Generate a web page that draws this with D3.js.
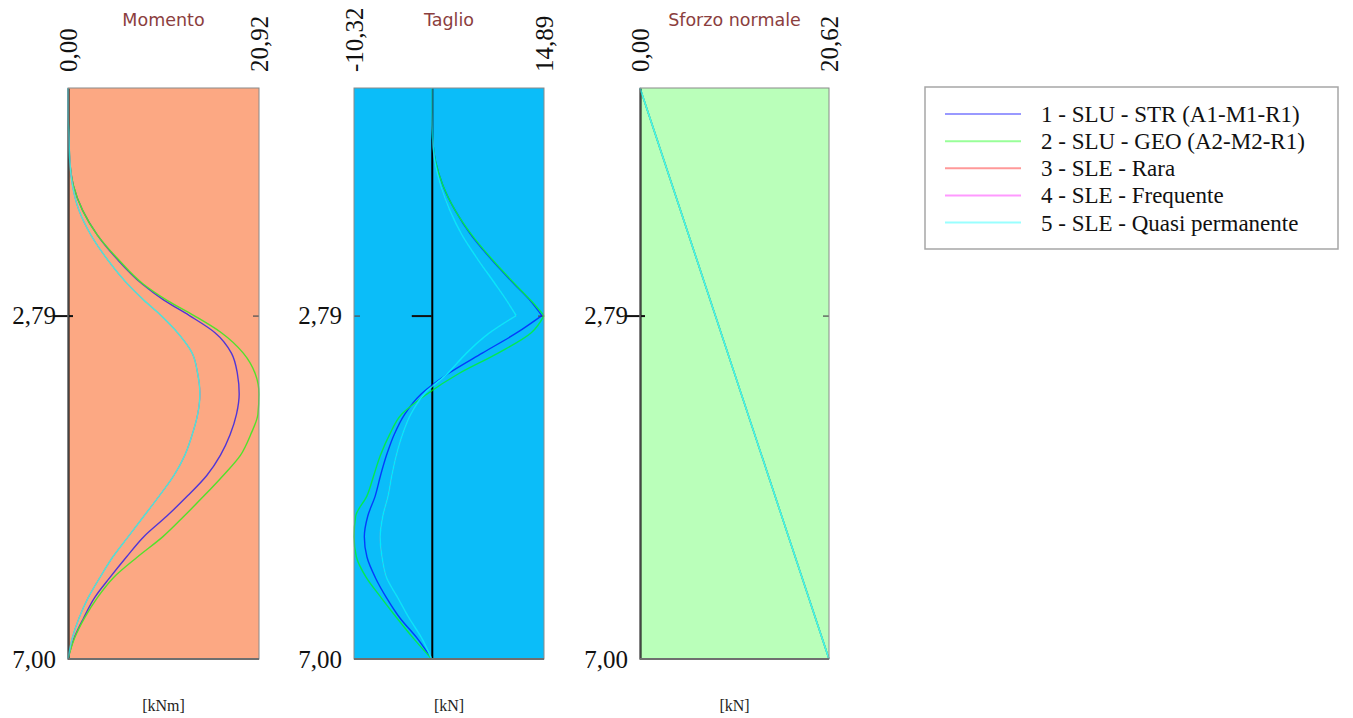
<!DOCTYPE html>
<html>
<head>
<meta charset="utf-8">
<script src="https://cdn.jsdelivr.net/npm/d3@7"></script>
<style>
  body { margin: 0; background: #ffffff; }
  svg { display: block; }
</style>
</head>
<body>
<svg id="chart" width="1353" height="718"></svg>
<script>
// ---- data ---------------------------------------------------------------
// depth along the wall [m]
const depths = [0, 0.3, 0.6, 0.9, 1.2, 1.5, 1.8, 2.1, 2.4, 2.6, 2.79, 3.0, 3.25, 3.5, 3.75,
                4.0, 4.25, 4.5, 4.75, 5.0, 5.25, 5.5, 5.75, 6.0, 6.25, 6.5, 6.75, 7.0];

// bending moment [kNm]
const momentoSTR = [0, 0, 0.1, 0.2, 0.6, 1.6, 3.2, 5.4, 8.1, 10.5, 13.3, 16.1, 17.9, 18.55, 18.75,
                    18.45, 17.75, 16.7, 15.2, 13.1, 10.8, 8.3, 6.4, 4.6, 2.9, 1.7, 0.65, 0];
const momentoGEO = [0, 0, 0.1, 0.2, 0.6, 1.6, 3.2, 5.5, 8.2, 10.8, 13.8, 16.8, 19.2, 20.5, 20.92,
                    20.8, 20.0, 18.9, 17.0, 14.9, 12.7, 10.4, 7.6, 5.0, 3.2, 1.8, 0.7, 0];
// the three SLE combinations give the same moment
const momentoSLE = [0, 0, 0.1, 0.2, 0.5, 1.2, 2.5, 4.3, 6.5, 8.3, 10.2, 12.0, 13.6, 14.2, 14.45,
                    14.2, 13.6, 12.8, 11.6, 10.0, 8.3, 6.6, 4.9, 3.5, 2.2, 1.2, 0.45, 0];

// shear [kN]
const taglioSTR = [0, 0, 0.1, 0.5, 1.5, 3.1, 5.2, 7.9, 10.9, 13.0, 14.6, 11.3, 6.7, 2.2, -1.4,
                   -3.6, -5.0, -6.0, -6.8, -7.5, -8.5, -8.95, -8.6, -7.5, -6.0, -4.2, -1.9, 0];
const taglioGEO = [0, 0, 0.1, 0.5, 1.5, 3.1, 5.3, 8.0, 11.0, 13.1, 14.89, 13.2, 8.8, 3.6, -0.6,
                   -4.0, -5.6, -6.8, -7.7, -8.6, -10.1, -10.32, -10.0, -8.7, -6.7, -4.6, -2.4, 0];
const taglioSLE = [0, 0, 0.1, 0.4, 1.2, 2.4, 4.0, 6.1, 8.4, 9.9, 11.2, 7.7, 4.6, 2.1, -1.0,
                   -2.8, -3.9, -4.7, -5.3, -5.8, -6.5, -6.85, -6.6, -6.0, -4.5, -3.0, -1.3, 0];

// axial force [kN] (same for every combination)
const sforzoDepths = [0, 7.0];
const sforzoValues = [0, 20.62];

// axis labels
const momentoTicks = [0, 20.92];
const taglioTicks = [-10.32, 14.89];
const sforzoTicks = [0, 20.62];
const depthTicks = [2.79, 7.0];

const seriesNames = [
  "1 - SLU - STR (A1-M1-R1)",
  "2 - SLU - GEO (A2-M2-R1)",
  "3 - SLE - Rara",
  "4 - SLE - Frequente",
  "5 - SLE - Quasi permanente"
];
const seriesColors = ["#0000ff", "#00ff00", "#ff0000", "#ff00ff", "#00ffff"];
const seriesWidths = [1.4, 1.4, 0.8, 0.8, 1.5];

// ---- layout ---------------------------------------------------------------
const svg = d3.select("#chart");
const plotTop = 88, plotBottom = 659;
const y = d3.scaleLinear().domain([0, 7]).range([plotTop, plotBottom]);

const locale = d3.formatLocale({ decimal: ",", thousands: ".", grouping: [3], currency: ["", "€"], minus: "-" });
const fmt = locale.format(".2f");

const panels = [
  { title: "Momento", unit: "[kNm]", ticks: momentoTicks, range: [68, 259], fill: "#fca883",
    depth: depths, series: [momentoSTR, momentoGEO, momentoSLE, momentoSLE, momentoSLE],
    breakAt: null, axisAtEdge: true },
  { title: "Taglio", unit: "[kN]", ticks: taglioTicks, range: [354, 544], fill: "#0bbdf9",
    depth: depths, series: [taglioSTR, taglioGEO, taglioSLE, taglioSLE, taglioSLE],
    breakAt: 2.79, axisAtEdge: false },
  { title: "Sforzo normale", unit: "[kN]", ticks: sforzoTicks, range: [640, 829], fill: "#baffba",
    depth: sforzoDepths, series: [sforzoValues, sforzoValues, sforzoValues, sforzoValues, sforzoValues],
    breakAt: null, axisAtEdge: true }
];

panels.forEach(p => {
  const x = d3.scaleLinear().domain(p.ticks).range(p.range);
  const g = svg.append("g");
  const [x0, x1] = p.range;

  // background
  g.append("rect")
    .attr("x", x0).attr("y", plotTop)
    .attr("width", x1 - x0).attr("height", plotBottom - plotTop)
    .attr("fill", p.fill);

  // title
  g.append("text")
    .attr("x", (x0 + x1) / 2).attr("y", 26)
    .attr("text-anchor", "middle")
    .attr("font-family", "'DejaVu Sans', Verdana, sans-serif")
    .attr("font-size", 17.5)
    .attr("fill", "#8b3e3e")
    .text(p.title);

  // unit
  g.append("text")
    .attr("x", (x0 + x1) / 2).attr("y", 711)
    .attr("text-anchor", "middle")
    .attr("font-family", "'Liberation Serif', 'Times New Roman', serif")
    .attr("font-size", 16)
    .attr("fill", "#222")
    .text(p.unit);

  // extreme values, rotated, above the panel
  const xAxis = g.append("g")
    .attr("transform", "translate(0,72)")
    .call(d3.axisTop(x).tickValues(p.ticks).tickFormat(fmt).tickSize(0));
  xAxis.select(".domain").remove();
  xAxis.selectAll("text")
    .attr("x", 0).attr("y", 0).attr("dy", "0.35em")
    .attr("text-anchor", "start")
    .attr("transform", "rotate(-90)")
    .attr("font-family", "'Liberation Serif', 'Times New Roman', serif")
    .attr("font-size", 25)
    .attr("fill", "#111");

  // depth axis (zero line of the diagram)
  const ax = x(0);
  const yAxis = g.append("g")
    .attr("transform", `translate(${ax},0)`)
    .call(d3.axisLeft(y).tickValues(depthTicks).tickFormat(fmt).tickSizeOuter(0).tickSizeInner(15));
  yAxis.select(".domain").attr("stroke", "#000").attr("stroke-width", 2);
  yAxis.selectAll(".tick line")
    .attr("stroke", "#111").attr("stroke-width", 2)
    .attr("x1", p.axisAtEdge ? 5 : 0)
    .attr("x2", p.axisAtEdge ? -15 : -20)
    .attr("opacity", d => d === 7.0 ? 0 : 1);
  yAxis.selectAll(".tick text")
    .attr("x", x0 - ax - 12)
    .attr("font-family", "'Liberation Serif', 'Times New Roman', serif")
    .attr("font-size", 25)
    .attr("fill", "#111");

  // small inner ticks on the frame
  const edgeTicks = [[x1, -6]];
  if (!p.axisAtEdge) edgeTicks.push([x0, 6]);
  edgeTicks.forEach(([ex, len]) => {
    const t = g.append("g").attr("transform", `translate(${ex},0)`)
      .call(d3.axisRight(y).tickValues([2.79]).tickFormat("").tickSizeOuter(0).tickSizeInner(len));
    t.select(".domain").remove();
    t.selectAll(".tick line").attr("stroke", "#555").attr("stroke-width", 1.3);
  });

  // diagrams, one per load combination (smooth, kinked only where the shear peaks)
  const lines = g.append("g").attr("opacity", 0.68);
  p.series.forEach((vals, i) => {
    const pts = p.depth.map((d, k) => [vals[k], d]);
    const line = d3.line()
      .x(d => x(d[0]))
      .y(d => y(d[1]))
      .curve(p.depth.length > 2 ? d3.curveMonotoneY : d3.curveLinear);
    let path;
    if (p.breakAt != null) {
      const a = pts.filter(d => d[1] <= p.breakAt);
      const b = pts.filter(d => d[1] >= p.breakAt);
      path = line(a) + line(b);
    } else {
      path = line(pts);
    }
    lines.append("path")
      .attr("d", path)
      .attr("fill", "none")
      .attr("stroke", seriesColors[i])
      .attr("stroke-width", seriesWidths[i]);
  });

  // frame
  g.append("rect")
    .attr("x", x0).attr("y", plotTop)
    .attr("width", x1 - x0).attr("height", plotBottom - plotTop)
    .attr("fill", "none")
    .attr("stroke", "#8a8a8a").attr("stroke-width", 1);
  g.append("line")
    .attr("x1", x0).attr("x2", x1).attr("y1", plotBottom).attr("y2", plotBottom)
    .attr("stroke", "#6f6f6f").attr("stroke-width", 2);
});

// ---- legend -----------------------------------------------------------------
const legend = svg.append("g");
legend.append("rect")
  .attr("x", 925).attr("y", 87).attr("width", 413).attr("height", 162)
  .attr("fill", "#fff").attr("stroke", "#a6a6a6").attr("stroke-width", 1.5);

const ly = d3.scalePoint().domain(seriesNames).range([114, 222.5]);
seriesNames.forEach((name, i) => {
  legend.append("line")
    .attr("x1", 945).attr("x2", 1021)
    .attr("y1", ly(name)).attr("y2", ly(name))
    .attr("stroke", seriesColors[i]).attr("stroke-width", 2)
    .attr("stroke-opacity", 0.4);
  legend.append("text")
    .attr("x", 1041).attr("y", ly(name) + 8)
    .attr("font-family", "'Liberation Serif', 'Times New Roman', serif")
    .attr("font-size", 23)
    .attr("fill", "#111")
    .text(name);
});
</script>
</body>
</html>
